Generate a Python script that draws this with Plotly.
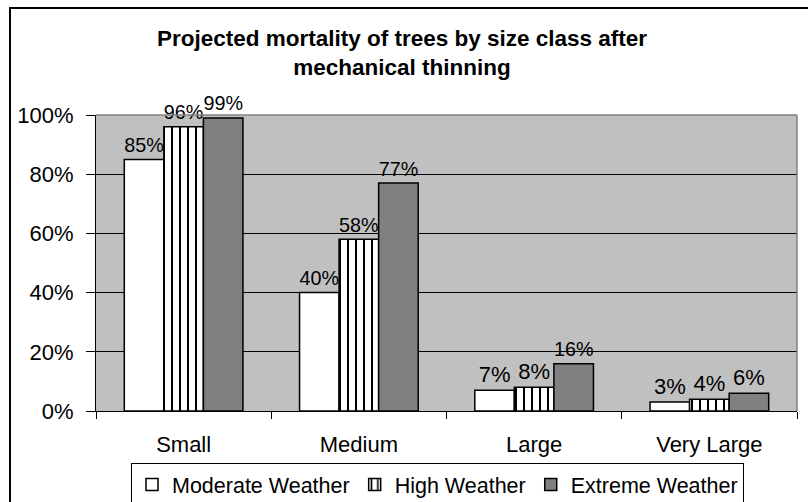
import plotly.graph_objects as go

categories = ["Small", "Medium", "Large", "Very Large"]
moderate = [0.85, 0.40, 0.07, 0.03]
high = [0.96, 0.58, 0.08, 0.04]
extreme = [0.99, 0.77, 0.16, 0.06]
y_ticks = [0, 0.2, 0.4, 0.6, 0.8, 1.0]
title_text = "<b>Projected mortality of trees by size class after<br>mechanical thinning</b>"

FONT = "Liberation Sans, Arial, sans-serif"
FS = 22

def labels(vals):
    return [f"{round(v*100)}%" for v in vals]

fig = go.Figure()
fig.add_trace(go.Bar(
    name="Moderate Weather", x=categories, y=moderate, text=labels(moderate),
    textposition="outside", cliponaxis=False,
    marker=dict(color="white", line=dict(color="black", width=1.5)),
))
fig.add_trace(go.Bar(
    name="High Weather", x=categories, y=high, text=labels(high),
    textposition="outside", cliponaxis=False,
    marker=dict(color="white", line=dict(color="black", width=1.5),
                pattern=dict(shape="|", fgcolor="black", bgcolor="white",
                             size=8, solidity=0.25, fillmode="replace")),
))
fig.add_trace(go.Bar(
    name="Extreme Weather", x=categories, y=extreme, text=labels(extreme),
    textposition="outside", cliponaxis=False,
    marker=dict(color="#808080", line=dict(color="black", width=1.5)),
))

fig.update_traces(textfont=dict(family=FONT, size=FS, color="black"))

# plot area: x 96..797, y 115..411
L, R, T, B = 96, 797, 115, 411
W, H = 808, 502
pw, ph = R - L, B - T

def px(x):
    return (x - L) / pw

def py(y):
    return (B - y) / ph

fig.update_layout(
    width=W, height=H,
    margin=dict(l=L, r=W - R, t=T, b=H - B, pad=0, autoexpand=False),
    paper_bgcolor="white", plot_bgcolor="#C0C0C0",
    font=dict(family=FONT, size=FS, color="black"),
    barmode="group", bargap=0.323, bargroupgap=0,
    title=dict(text=title_text, x=402 / W, xanchor="center",
               y=1 - 46 / H, yanchor="top", yref="container",
               font=dict(family=FONT, size=22.5, color="black")),
    showlegend=True,
    legend=dict(orientation="h", x=px(131), xanchor="left",
                y=py(463), yanchor="top",
                bordercolor="black", borderwidth=1, bgcolor="white",
                font=dict(family=FONT, size=21.5, color="black"),
                itemwidth=30, traceorder="normal"),
    xaxis=dict(showgrid=False, showline=True, linecolor="black", linewidth=1,
               ticks="outside", tickson="boundaries", ticklen=7,
               tickcolor="black", ticklabelstandoff=14,
               tickfont=dict(family=FONT, size=FS)),
    yaxis=dict(range=[0, 1], tickvals=y_ticks, tickformat=".0%",
               showgrid=True, gridcolor="black", gridwidth=1,
               showline=True, linecolor="black", linewidth=1,
               ticks="outside", ticklen=9, tickcolor="black",
               ticklabelstandoff=8,
               zeroline=False, tickfont=dict(family=FONT, size=FS)),
    shapes=[
        # gray plot-area border top and right
        dict(type="line", xref="paper", yref="paper", x0=0, x1=1, y0=1, y1=1,
             line=dict(color="#808080", width=1.5)),
        dict(type="line", xref="paper", yref="paper", x0=1, x1=1, y0=0, y1=1,
             line=dict(color="#808080", width=1.5)),
        # outer chart border
        dict(type="rect", xref="paper", yref="paper",
             x0=px(10), x1=px(812), y0=py(506), y1=py(8),
             line=dict(color="black", width=2), fillcolor="rgba(0,0,0,0)"),
    ],
)

fig.write_html("out.html", config={"displayModeBar": False},
               post_script="document.body.style.margin='0';")
